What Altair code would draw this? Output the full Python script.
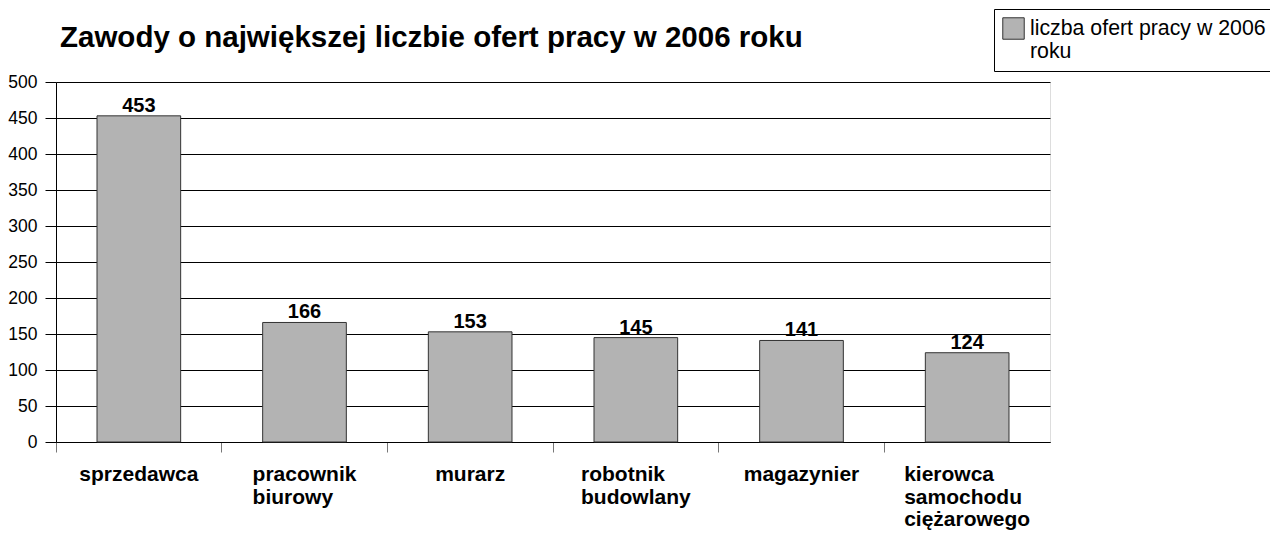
import altair as alt
import pandas as pd

categories = ["sprzedawca", "pracownik\nbiurowy", "murarz", "robotnik\nbudowlany",
              "magazynier", "kierowca\nsamochodu\nciężarowego"]
values = [453, 166, 153, 145, 141, 124]
series_name = "liczba ofert pracy w 2006\nroku"
title_text = "Zawody o największej liczbie ofert pracy w 2006 roku"
y_ticks = list(range(0, 501, 50))

FONT = "Liberation Sans"
LABEL_SIZE = 21

# Arial/Liberation Sans Bold advance widths (per 1000 em) used to center the
# left-aligned multi-line category labels like the original spreadsheet did
BOLD_W = {"a": 556, "b": 611, "c": 556, "d": 611, "e": 556, "f": 333, "g": 611,
          "h": 611, "i": 278, "j": 278, "k": 556, "l": 278, "m": 889, "n": 611,
          "o": 611, "p": 611, "q": 611, "r": 389, "s": 556, "t": 333, "u": 611,
          "v": 556, "w": 778, "x": 556, "y": 556, "z": 500, "ę": 556, "ż": 500}


def block_width(label):
    return max(sum(BOLD_W.get(ch, 556) for ch in line) for line in label.split("\n")) * LABEL_SIZE / 1000.0


df = pd.DataFrame({
    "kat": categories,
    "wartosc": values,
    "seria": [series_name] * len(categories),
    "off": [-block_width(c) / 2 for c in categories],
})

W, H = 994, 360

x = alt.X("kat:N", sort=categories, title=None,
          scale=alt.Scale(paddingInner=0, paddingOuter=0),
          axis=alt.Axis(labels=False, ticks=True, bandPosition=0, tickSize=10,
                        tickColor="#777777", domainColor="#000000", grid=False))
y = alt.Y("wartosc:Q", title=None,
          scale=alt.Scale(domain=[0, 500], nice=False),
          axis=alt.Axis(values=y_ticks, tickSize=11, tickColor="#000000",
                        domainColor="#000000", gridColor="#000000", gridOpacity=1,
                        labelFontSize=17.5, labelFont=FONT, labelColor="#000000",
                        labelPadding=8))

bars = alt.Chart(df).mark_bar(
    width=alt.RelativeBandSize(0.505), stroke="#333333", strokeWidth=1
).encode(
    x=x, y=y,
    color=alt.Color("seria:N", scale=alt.Scale(range=["#b3b3b3"]),
                    legend=alt.Legend(title=None, orient="none", legendX=938, legendY=-73,
                                      strokeColor="#000000", padding=8, fillColor="#ffffff",
                                      symbolType="square", symbolSize=460,
                                      symbolStrokeColor="#333333", symbolStrokeWidth=1,
                                      labelFont=FONT, labelFontSize=21.3, labelColor="#000000",
                                      labelLimit=400, labelOffset=5,
                                      labelExpr="split(datum.label, '\\n')")),
)

value_labels = alt.Chart(df).mark_text(
    baseline="alphabetic", dy=-4, fontSize=20, fontWeight="bold", font=FONT, color="#000000"
).encode(x=x, y=y, text=alt.Text("wartosc:Q"))

cat_labels = alt.Chart(df).mark_text(
    align="left", baseline="alphabetic", lineBreak="\n", lineHeight=22.7,
    fontSize=LABEL_SIZE, fontWeight="bold", font=FONT, color="#000000",
    dx=alt.expr("datum.off"),
).encode(x=x, y=alt.value(H + 39), text="kat:N")

chart = alt.layer(bars, value_labels, cat_labels).properties(
    width=W, height=H,
    autosize=alt.AutoSizeParams(type="none"),
    padding={"left": 48, "top": 74, "right": 220, "bottom": 93},
    title=alt.Title(title_text, anchor="start", frame="group", font=FONT, fontSize=29.5,
                    fontWeight="bold", color="#000000", offset=0, dx=4, dy=45),
).configure_view(stroke=None).configure(background="#ffffff")

chart.save("out.html", embed_options={"renderer": "svg", "actions": False})
